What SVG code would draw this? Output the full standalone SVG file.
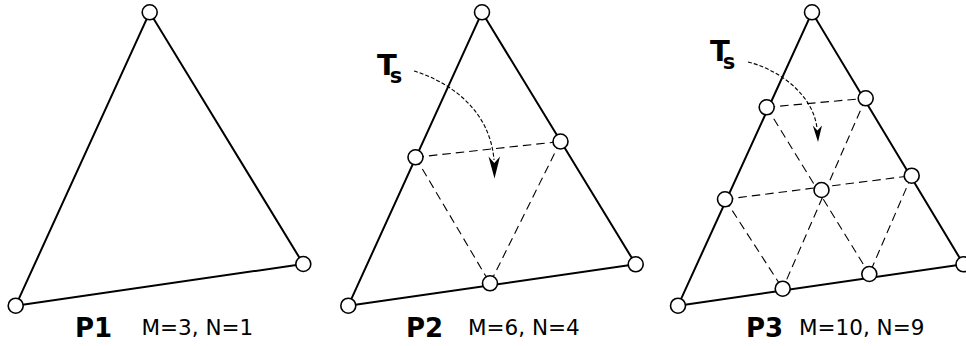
<svg xmlns="http://www.w3.org/2000/svg" width="966" height="346" viewBox="0 0 966 346">
<style>
.edge{fill:none;stroke:#000;stroke-width:2}
.dash{fill:none;stroke:#000;stroke-width:1.1;stroke-dasharray:8.5,5}
.curve{fill:none;stroke:#000;stroke-width:1.1;stroke-dasharray:4,2}
.node{fill:#fff;stroke:#000;stroke-width:1.6}
.head{fill:#000;stroke:none}
.big{font-family:"DejaVu Sans",sans-serif;font-weight:bold;font-size:26px;fill:#000}
.lab{font-family:"DejaVu Sans",sans-serif;font-size:21.5px;fill:#000}
.ts{font-family:"DejaVu Sans",sans-serif;font-weight:bold;font-size:29px;fill:#000}
.sub{font-size:21px}
</style>
<g id="connectors">
<polygon class="edge" points="149.7,12.3 15.7,305.7 303.3,264"/>
<polygon class="edge" points="482,12.3 348.3,305.7 635.7,264.3"/>
<polygon class="edge" points="812,12.3 678,305.7 963.5,264.3"/>
<path class="dash" d="M415.5,157.3 L560.5,141.5 M415.5,157.3 L490,283.3 M560.5,141.5 L490,283.3"/>
<path class="dash" d="M766.7,107.3 L865.7,98.3 M725,199.3 L911.7,175.7 M766.7,107.3 L869.3,274 M865.7,98.3 L782.7,288.7 M725,199.3 L782.7,288.7 M911.7,175.7 L869.3,274"/>
<path class="curve" d="M414,71 C450,82 490,110 494,160"/>
<path class="head" d="M494.5,178.5 L488.5,156.5 L494.3,163 L500,156.5 Z"/>
<path class="curve" d="M748,62 C780,70 813,95 817,128"/>
<path class="head" d="M818,142 L812.8,125.5 L817.4,130.5 L822,125.5 Z"/>
</g>
<g id="p1-a"><circle class="node" cx="149.7" cy="12.3" r="7.5"/></g>
<g id="p1-b"><circle class="node" cx="15.7" cy="305.7" r="7.5"/></g>
<g id="p1-c"><circle class="node" cx="303.3" cy="264" r="7.5"/></g>
<g id="p2-a"><circle class="node" cx="482" cy="12.3" r="7.5"/></g>
<g id="p2-b"><circle class="node" cx="348.3" cy="305.7" r="7.5"/></g>
<g id="p2-c"><circle class="node" cx="635.7" cy="264.3" r="7.5"/></g>
<g id="p2-l"><circle class="node" cx="415.5" cy="157.3" r="7.5"/></g>
<g id="p2-r"><circle class="node" cx="560.5" cy="141.5" r="7.5"/></g>
<g id="p2-d"><circle class="node" cx="490" cy="283.3" r="7.5"/></g>
<g id="p3-a"><circle class="node" cx="812" cy="12.3" r="7.5"/></g>
<g id="p3-b"><circle class="node" cx="678" cy="305.7" r="7.5"/></g>
<g id="p3-c"><circle class="node" cx="963.5" cy="264.3" r="7.5"/></g>
<g id="p3-l1"><circle class="node" cx="766.7" cy="107.3" r="7.5"/></g>
<g id="p3-l2"><circle class="node" cx="725" cy="199.3" r="7.5"/></g>
<g id="p3-r1"><circle class="node" cx="865.7" cy="98.3" r="7.5"/></g>
<g id="p3-r2"><circle class="node" cx="911.7" cy="175.7" r="7.5"/></g>
<g id="p3-m"><circle class="node" cx="821.5" cy="190" r="7.5"/></g>
<g id="p3-d1"><circle class="node" cx="782.7" cy="288.7" r="7.5"/></g>
<g id="p3-d2"><circle class="node" cx="869.3" cy="274" r="7.5"/></g>
<g id="labels">
<text class="big" x="75" y="337">P1</text>
<text class="lab" x="141.5" y="335">M=3, N=1</text>
<text class="big" x="406" y="337">P2</text>
<text class="lab" x="468" y="335">M=6, N=4</text>
<text class="big" x="746" y="337">P3</text>
<text class="lab" x="799" y="335">M=10, N=9</text>
<text class="ts" x="377" y="75">T<tspan class="sub" dx="-7" dy="8">s</tspan></text>
<text class="ts" x="710" y="61">T<tspan class="sub" dx="-7" dy="8">s</tspan></text>
</g>
</svg>
